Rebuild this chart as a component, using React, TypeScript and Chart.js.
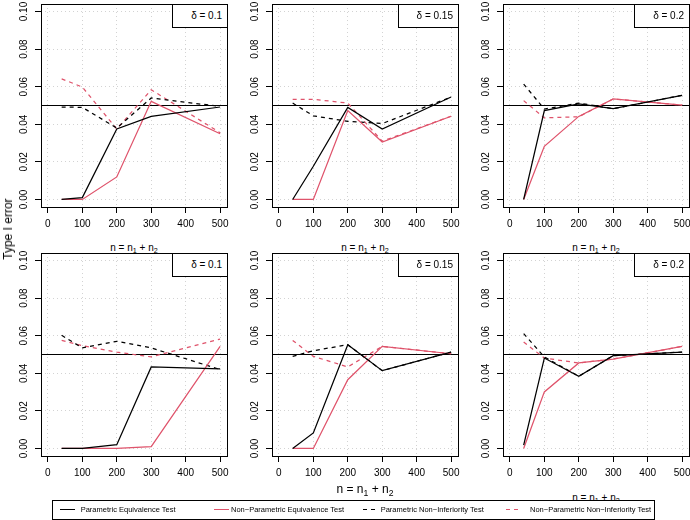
import React, { useEffect, useRef } from "react";
import { Chart, registerables } from "chart.js";

Chart.register(...registerables);

const FONT = '"Liberation Sans", Arial, Helvetica, sans-serif';
const BLACK = "#000000";
const RED = "#DF536B";

// ---------- data ----------
const sampleSizes = [40, 100, 200, 300, 500];
const xTicks = [0, 100, 200, 300, 400, 500];
const yTicks = [0, 0.02, 0.04, 0.06, 0.08, 0.1];
const xLimits = [0, 500];
const yLimits = [0, 0.1];
const nominalAlpha = 0.05;
const deltaLabels = ["δ = 0.1", "δ = 0.15", "δ = 0.2", "δ = 0.1", "δ = 0.15", "δ = 0.2"];
const legendLabels = [
  "Parametric Equivalence Test",
  "Non\u2212Parametric Equivalence Test",
  "Parametric Non\u2212Inferiority Test",
  "Non\u2212Parametric Non\u2212Inferiority Test",
];
const yTitle = "Type I error";

// panel 1 (top-left)
const p1ParEq = [0, 0.001, 0.0375, 0.0442, 0.0492];
const p1NonParEq = [0, 0, 0.012, 0.0522, 0.035];
const p1ParNI = [0.0492, 0.049, 0.038, 0.054, 0.0495];
const p1NonParNI = [0.0642, 0.0598, 0.0375, 0.0584, 0.0355];
// panel 2 (top-middle)
const p2ParEq = [0, 0.0177, 0.049, 0.0375, 0.0545];
const p2NonParEq = [0, 0, 0.0473, 0.0306, 0.0443];
const p2ParNI = [0.0513, 0.0445, 0.0416, 0.0404, 0.0545];
const p2NonParNI = [0.0533, 0.0533, 0.0513, 0.031, 0.0443];
// panel 3 (top-right)
const p3ParEq = [0, 0.0473, 0.0508, 0.0483, 0.0554];
const p3NonParEq = [0, 0.0283, 0.0442, 0.0535, 0.0502];
const p3ParNI = [0.0614, 0.0481, 0.0513, 0.0483, 0.0554];
const p3NonParNI = [0.0526, 0.0434, 0.044, 0.0535, 0.0502];
// panel 4 (bottom-left)
const p4ParEq = [0, 0, 0.002, 0.0434, 0.0423];
const p4NonParEq = [0, 0, 0, 0.001, 0.0543];
const p4ParNI = [0.0602, 0.0535, 0.057, 0.0535, 0.042];
const p4NonParNI = [0.0575, 0.0547, 0.0513, 0.0487, 0.0582];
// panel 5 (bottom-middle)
const p5ParEq = [0, 0.0083, 0.0552, 0.0414, 0.0513];
const p5NonParEq = [0, 0, 0.0366, 0.0543, 0.0504];
const p5ParNI = [0.049, 0.052, 0.0552, 0.0414, 0.0513];
const p5NonParNI = [0.0575, 0.049, 0.0434, 0.0543, 0.0504];
// panel 6 (bottom-right)
const p6ParEq = [0.0018, 0.0481, 0.0384, 0.0494, 0.0513];
const p6NonParEq = [0, 0.0301, 0.0455, 0.0476, 0.0543];
const p6ParNI = [0.0611, 0.0487, 0.0384, 0.0494, 0.0513];
const p6NonParNI = [0.0566, 0.0481, 0.0455, 0.0476, 0.0543];

const panelSeries = [
  [p1ParEq, p1NonParEq, p1ParNI, p1NonParNI],
  [p2ParEq, p2NonParEq, p2ParNI, p2NonParNI],
  [p3ParEq, p3NonParEq, p3ParNI, p3NonParNI],
  [p4ParEq, p4NonParEq, p4ParNI, p4NonParNI],
  [p5ParEq, p5NonParEq, p5ParNI, p5NonParNI],
  [p6ParEq, p6NonParEq, p6ParNI, p6NonParNI],
];

// ---------- styles / layout ----------
const seriesStyles = [
  { color: BLACK, dash: [] as number[] },
  { color: RED, dash: [] as number[] },
  { color: BLACK, dash: [4, 4] },
  { color: RED, dash: [4, 4] },
];
const AREA_W = 186;
const AREA_H = 203;
const COL_LEFT = [41, 272, 503];
const ROW_TOP = [4, 253];
const YW = 41;
const PT = 4;
const PR = 3;
const XH = 30;
const CANVAS_W = YW + AREA_W + PR;
const CANVAS_H = PT + AREA_H + XH;

const ext = (lim: number[]) => {
  const d = (lim[1] - lim[0]) * 0.04;
  return [lim[0] - d, lim[1] + d];
};
const xRange = ext(xLimits);
const yRange = ext(yLimits);

const framePlugin = {
  id: "rframe",
  beforeDatasetsDraw(chart: any) {
    const { ctx, chartArea: a, scales } = chart;
    const py = Math.floor(scales.y.getPixelForValue(nominalAlpha)) + 0.5;
    ctx.save();
    ctx.strokeStyle = BLACK;
    ctx.lineWidth = 1;
    ctx.setLineDash([]);
    ctx.beginPath();
    ctx.moveTo(a.left, py);
    ctx.lineTo(a.right, py);
    ctx.stroke();
    ctx.restore();
  },
  afterDraw(chart: any) {
    const { ctx, chartArea: a } = chart;
    ctx.save();
    ctx.strokeStyle = BLACK;
    ctx.lineWidth = 1;
    ctx.setLineDash([]);
    ctx.strokeRect(a.left + 0.5, a.top + 0.5, a.right - a.left, a.bottom - a.top);
    ctx.restore();
  },
};

function Panel({ idx }: { idx: number }) {
  const ref = useRef<HTMLCanvasElement>(null);
  const col = idx % 3;
  const row = Math.floor(idx / 3);
  useEffect(() => {
    const tickFont = { family: FONT, size: 10 };
    const chart = new Chart(ref.current as HTMLCanvasElement, {
      type: "line",
      data: {
        datasets: panelSeries[idx].map((vals, k) => ({
          data: sampleSizes.map((x, i) => ({ x, y: vals[i] })),
          borderColor: seriesStyles[k].color,
          borderDash: seriesStyles[k].dash,
          borderWidth: 1.25,
          pointRadius: 0,
          tension: 0,
          fill: false,
        })),
      },
      options: {
        animation: false,
        responsive: false,
        devicePixelRatio: 1,
        events: [],
        layout: { padding: { left: 0, top: PT, right: PR, bottom: 0 } },
        plugins: { legend: { display: false }, tooltip: { enabled: false }, title: { display: false } },
        scales: {
          x: {
            type: "linear",
            min: xRange[0],
            max: xRange[1],
            afterBuildTicks: (s: any) => {
              s.ticks = xTicks.map((v) => ({ value: v }));
            },
            afterFit: (s: any) => {
              s.height = XH;
              s.paddingLeft = 0;
              s.paddingRight = 0;
            },
            ticks: {
              autoSkip: false,
              maxRotation: 0,
              minRotation: 0,
              padding: 5.5,
              color: BLACK,
              font: tickFont,
              callback: (v: any) => String(v),
            },
            grid: { color: "#D3D3D3", lineWidth: 1, drawTicks: true, tickLength: 6, tickColor: BLACK, tickWidth: 1 },
            border: { display: false, dash: [1, 3] },
          },
          y: {
            type: "linear",
            min: yRange[0],
            max: yRange[1],
            afterBuildTicks: (s: any) => {
              s.ticks = yTicks.map((v) => ({ value: v }));
            },
            afterFit: (s: any) => {
              s.width = YW;
              s.paddingTop = 0;
              s.paddingBottom = 0;
            },
            ticks: {
              autoSkip: false,
              minRotation: 90,
              maxRotation: 90,
              crossAlign: "center",
              padding: 1.5,
              color: BLACK,
              font: tickFont,
              callback: (v: any) => Number(v).toFixed(2),
            },
            grid: { color: "#D3D3D3", lineWidth: 1, drawTicks: true, tickLength: 6, tickColor: BLACK, tickWidth: 1 },
            border: { display: false, dash: [1, 3] },
          },
        },
      } as any,
      plugins: [framePlugin],
    });
    return () => chart.destroy();
  }, [idx]);
  return (
    <canvas
      ref={ref}
      width={CANVAS_W}
      height={CANVAS_H}
      style={{
        position: "absolute",
        left: COL_LEFT[col] - YW,
        top: ROW_TOP[row] - PT,
        width: CANVAS_W,
        height: CANVAS_H,
      }}
    />
  );
}

function DeltaBox({ idx }: { idx: number }) {
  const col = idx % 3;
  const row = Math.floor(idx / 3);
  const right = COL_LEFT[col] + AREA_W + 1;
  return (
    <div
      style={{
        position: "absolute",
        right: 690 - right,
        top: ROW_TOP[row],
        height: 24,
        boxSizing: "border-box",
        border: "1px solid #000",
        background: "#fff",
        paddingLeft: 18,
        paddingRight: 5,
        fontFamily: FONT,
        fontSize: 10,
        lineHeight: "22px",
        whiteSpace: "nowrap",
        color: BLACK,
      }}
    >
      {deltaLabels[idx]}
    </div>
  );
}

function NLabel({ x, y, size }: { x: number; y: number; size: number }) {
  const sub = { fontSize: "0.72em", position: "relative" as const, top: "0.32em" };
  return (
    <div
      style={{
        position: "absolute",
        left: x,
        top: y,
        transform: "translate(-50%, -50%)",
        fontFamily: FONT,
        fontSize: size,
        lineHeight: 1,
        whiteSpace: "nowrap",
        color: BLACK,
      }}
    >
      n = n<span style={sub}>1</span> + n<span style={sub}>2</span>
    </div>
  );
}

const legendLineX = [60, 214, 363, 506];
const legendTextX = [80.7, 231, 380.7, 530];

function Legend() {
  const boxLeft = 52;
  const boxTop = 500;
  return (
    <div
      style={{
        position: "absolute",
        left: boxLeft,
        top: boxTop,
        width: 603,
        height: 20,
        boxSizing: "border-box",
        border: "1px solid #000",
        background: "#fff",
      }}
    >
      {legendLabels.map((lab, k) => {
        const st = seriesStyles[k];
        const dashed = st.dash.length > 0;
        return (
          <React.Fragment key={lab}>
            <div
              style={{
                position: "absolute",
                left: legendLineX[k] - boxLeft - 1,
                top: 7.75,
                width: 15,
                height: 1.5,
                background: dashed
                  ? `repeating-linear-gradient(to right, ${st.color} 0px, ${st.color} 4px, transparent 4px, transparent 8px)`
                  : st.color,
              }}
            />
            <div
              style={{
                position: "absolute",
                left: legendTextX[k] - boxLeft - 1,
                top: 3.5,
                height: 10,
                lineHeight: "10px",
                fontFamily: FONT,
                fontSize: 7.5,
                whiteSpace: "nowrap",
                color: BLACK,
              }}
            >
              {lab}
            </div>
          </React.Fragment>
        );
      })}
    </div>
  );
}

export default function App() {
  return (
    <div
      style={{
        position: "fixed",
        left: 0,
        top: 0,
        width: 690,
        height: 520,
        overflow: "hidden",
        background: "#fff",
      }}
    >
      {[0, 1, 2].map((c) => (
        <NLabel key={"t" + c} x={COL_LEFT[c] + AREA_W / 2} y={248} size={10} />
      ))}
      <NLabel x={COL_LEFT[2] + AREA_W / 2} y={498} size={10} />
      {panelSeries.map((_, i) => (
        <Panel key={i} idx={i} />
      ))}
      {panelSeries.map((_, i) => (
        <DeltaBox key={"d" + i} idx={i} />
      ))}
      <NLabel x={365} y={489} size={12} />
      <div
        style={{
          position: "absolute",
          left: 8,
          top: 229,
          transform: "translate(-50%, -50%) rotate(-90deg)",
          fontFamily: FONT,
          fontSize: 12,
          lineHeight: 1,
          whiteSpace: "nowrap",
          color: BLACK,
        }}
      >
        {yTitle}
      </div>
      <Legend />
    </div>
  );
}
